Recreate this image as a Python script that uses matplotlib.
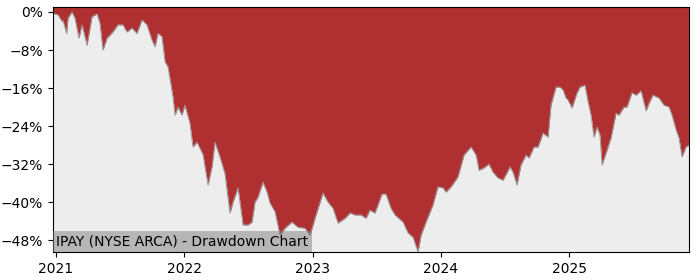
import numpy as np
import matplotlib
matplotlib.use("Agg")
import matplotlib.pyplot as plt
from matplotlib.ticker import PercentFormatter

# drawdown curve, x as decimal years, y in percent
years = [2020.977, 2021.016, 2021.047, 2021.055, 2021.083, 2021.094, 2021.125, 2021.148,
         2021.179, 2021.203, 2021.242, 2021.281, 2021.320, 2021.343, 2021.366, 2021.398,
         2021.444, 2021.483, 2021.522, 2021.553, 2021.592, 2021.631, 2021.670, 2021.709,
         2021.748, 2021.772, 2021.795, 2021.826, 2021.850, 2021.873, 2021.912, 2021.928,
         2021.951, 2021.982, 2022.005, 2022.044, 2022.068, 2022.099, 2022.146, 2022.185,
         2022.216, 2022.239, 2022.278, 2022.317, 2022.356, 2022.380, 2022.419, 2022.458,
         2022.497, 2022.528, 2022.551, 2022.574, 2022.613, 2022.645, 2022.668, 2022.707,
         2022.746, 2022.785, 2022.839, 2022.886, 2022.941, 2022.980, 2023.019, 2023.081,
         2023.120, 2023.159, 2023.198, 2023.253, 2023.292, 2023.331, 2023.377, 2023.416,
         2023.447, 2023.486, 2023.510, 2023.541, 2023.572, 2023.611, 2023.642, 2023.705,
         2023.744, 2023.783, 2023.822, 2023.845, 2023.884, 2023.938, 2023.977, 2024.016,
         2024.040, 2024.079, 2024.133, 2024.180, 2024.235, 2024.274, 2024.297, 2024.336,
         2024.375, 2024.406, 2024.445, 2024.484, 2024.539, 2024.562, 2024.593, 2024.624,
         2024.663, 2024.687, 2024.726, 2024.757, 2024.796, 2024.835, 2024.858, 2024.897,
         2024.928, 2024.952, 2024.975, 2024.991, 2025.022, 2025.061, 2025.084, 2025.123,
         2025.147, 2025.170, 2025.193, 2025.217, 2025.240, 2025.256, 2025.287, 2025.326,
         2025.365, 2025.388, 2025.427, 2025.450, 2025.489, 2025.521, 2025.560, 2025.599,
         2025.622, 2025.653, 2025.700, 2025.739, 2025.778, 2025.801, 2025.833, 2025.856,
         2025.879, 2025.910, 2025.934]
drawdown = [-0.3, -0.6, -2.0, -1.8, -4.5, -1.3, 0.0, -1.3,
            -5.5, -2.7, -7.0, -1.0, -0.4, -2.4, -8.0, -5.5,
            -4.2, -2.7, -2.7, -4.2, -3.4, -4.5, -1.7, -2.7,
            -5.9, -7.3, -4.5, -5.2, -10.5, -11.5, -17.9, -21.7,
            -20.0, -21.7, -19.6, -23.4, -28.4, -27.4, -30.0, -36.4,
            -32.6, -27.4, -30.5, -34.0, -42.3, -40.0, -37.0, -44.8,
            -44.8, -44.2, -40.0, -39.0, -35.8, -37.9, -40.2, -42.0,
            -47.0, -45.5, -44.2, -45.3, -45.5, -47.0, -43.4, -38.1,
            -40.0, -41.3, -44.4, -43.4, -42.3, -42.7, -42.7, -43.4,
            -41.7, -42.3, -40.6, -38.3, -38.3, -41.3, -42.7, -44.2,
            -46.5, -47.4, -50.5, -47.0, -44.2, -40.6, -36.8, -37.0,
            -37.9, -36.8, -34.7, -30.1, -28.4, -30.1, -33.3, -32.8,
            -32.0, -33.7, -34.9, -35.4, -32.6, -33.7, -36.4, -32.2,
            -30.1, -30.7, -28.4, -28.4, -25.5, -26.3, -19.6, -15.8,
            -15.8, -16.4, -18.1, -18.5, -20.2, -17.0, -15.8, -15.4,
            -18.9, -21.7, -26.3, -24.2, -25.9, -32.2, -29.7, -26.5,
            -21.3, -21.7, -20.0, -20.0, -17.0, -17.5, -16.6, -20.8,
            -19.2, -17.5, -18.1, -19.6, -20.0, -21.7, -24.8, -26.5,
            -30.5, -28.4, -28.0]
year_ticks = [2021, 2022, 2023, 2024, 2025]
pct_ticks = [0, -8, -16, -24, -32, -40, -48]
label = "IPAY (NYSE ARCA) - Drawdown Chart"

fig = plt.figure(figsize=(7, 2.8), dpi=100)
ax = fig.add_axes([0.0757, 0.1, 0.9086, 0.875])
ax.set_facecolor("#ededed")

top = 1.05
ax.fill_between(years, drawdown, top, color="#b03031", linewidth=0)
ax.plot(years, drawdown, color="#999999", linewidth=0.7)

ax.set_xlim(years[0], years[-1])
ax.set_ylim(min(drawdown), top)
ax.set_xticks(year_ticks)
ax.set_xticklabels([str(y) for y in year_ticks])
ax.set_yticks(pct_ticks)
ax.yaxis.set_major_formatter(PercentFormatter(decimals=0))

ax.text(0.0055, 0.014, label, transform=ax.transAxes, ha="left", va="bottom", fontsize=10,
        bbox=dict(facecolor="grey", alpha=0.5, edgecolor="none", pad=2.5))

fig.savefig("out.png", dpi=100)
